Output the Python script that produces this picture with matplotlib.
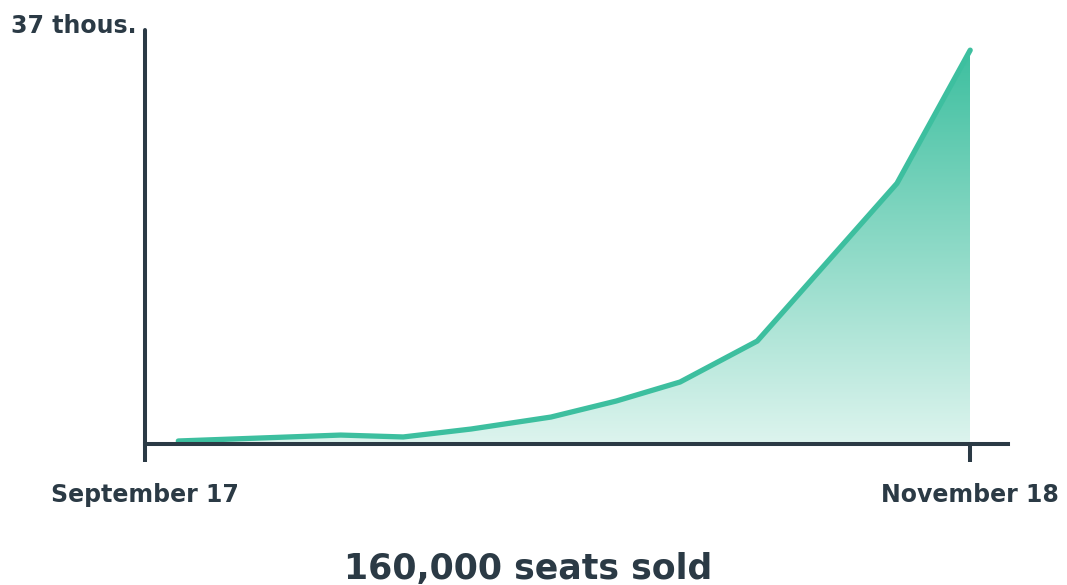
import matplotlib
matplotlib.use("Agg")
import matplotlib.pyplot as plt
import numpy as np
from matplotlib.colors import LinearSegmentedColormap

# Data: days since September 17, seats sold (thousands)
days = [2.5, 14.7, 19.4, 24.5, 30.5, 35.4, 40.2, 46.0, 56.5, 62.0]
seats = [0.27, 0.80, 0.63, 1.34, 2.41, 3.84, 5.54, 9.2, 23.3, 35.2]
tick_days = [0, 62]
tick_labels = ["September 17", "November 18"]
y_label = "37 thous."
title = "160,000 seats sold"
y_max = 37

dark = "#2b3a45"
green = "#3dbf9f"
font = "DejaVu Sans"

fig = plt.figure(figsize=(10.67, 5.85), dpi=100)
ax = fig.add_axes([0.1359, 0.241, 0.9447 - 0.1359, 0.9487 - 0.241])
ax.set_xlim(0, 64.84)
ax.set_ylim(0, y_max)

# gradient fill
cmap = LinearSegmentedColormap.from_list("g", ["#ddf4ee", "#3dbf9f"])
grad = np.linspace(0, 1, 256).reshape(-1, 1)
poly = ax.fill_between(days, seats, 0, color="none", lw=0)
im = ax.imshow(grad, cmap=cmap, aspect="auto", origin="lower",
               extent=[days[0], days[-1], 0, max(seats)], zorder=1)
path = poly.get_paths()[0]
im.set_clip_path(path, transform=ax.transData)

ax.plot(days, seats, color=green, lw=3.8, solid_capstyle="round",
        solid_joinstyle="round", zorder=3)

for s in ["top", "right"]:
    ax.spines[s].set_visible(False)
for s in ["left", "bottom"]:
    ax.spines[s].set_color(dark)
    ax.spines[s].set_linewidth(2.9)
    ax.spines[s].set_zorder(4)
ax.spines["left"].set_capstyle("round")

ax.set_yticks([])
ax.set_xticks(tick_days)
ax.set_xticklabels(tick_labels, fontfamily=font, fontweight="bold",
                   fontsize=17, color=dark)
ax.tick_params(axis="x", direction="out", length=13, width=2.9, color=dark, pad=15)

fig.text(0.1359 - 0.008, 0.955, y_label, ha="right", va="center",
         fontfamily=font, fontweight="bold", fontsize=17, color=dark)
fig.text(0.495, 0.028, title, ha="center", va="center",
         fontfamily=font, fontweight="bold", fontsize=25, color=dark)

fig.savefig("out.png", dpi=100)
